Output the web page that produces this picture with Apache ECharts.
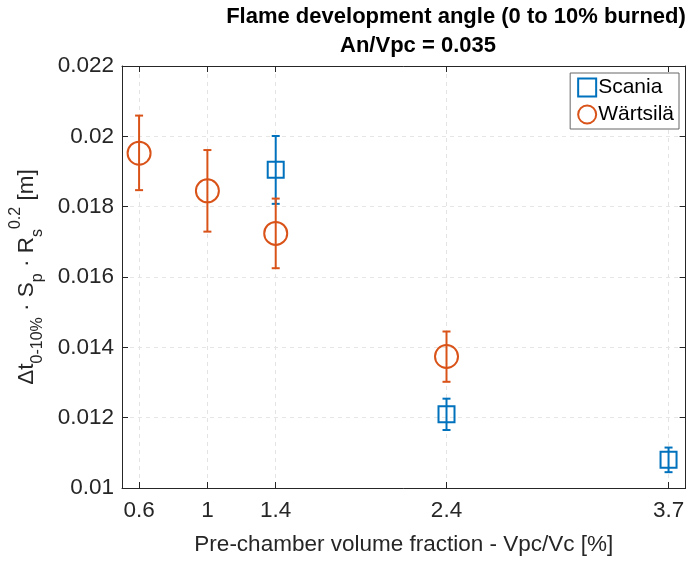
<!DOCTYPE html>
<html>
<head>
<meta charset="utf-8">
<script src="https://cdn.jsdelivr.net/npm/echarts@6/dist/echarts.min.js"></script>
<style>
  html, body { margin: 0; padding: 0; background: #fff; }
  #chart { width: 687px; height: 561px; }
</style>
</head>
<body>
<div id="chart"></div>
<script>
// Pre-chamber volume fraction (x) and normalised flame development time (y)
const xTicks = [0.6, 1, 1.4, 2.4, 3.7];

const scaniaX = [1.4, 2.4, 3.7];
const scaniaY = [0.01905, 0.0121, 0.0108];
const scaniaLow = [0.01808, 0.01165, 0.01045];
const scaniaHigh = [0.02001, 0.01254, 0.01115];

const wartsilaX = [0.6, 1, 1.4, 2.4];
const wartsilaY = [0.01952, 0.01845, 0.01724, 0.01374];
const wartsilaLow = [0.01847, 0.01729, 0.01625, 0.01302];
const wartsilaHigh = [0.02059, 0.01961, 0.01823, 0.01445];

const BLUE = '#0072BD';
const ORANGE = '#D95319';
const AXIS = '#262626';
const FONT = 'Liberation Sans, Arial, Helvetica, sans-serif';

const chart = echarts.init(document.getElementById('chart'));

function points(xs, ys) { return xs.map((x, i) => [x, ys[i]]); }
function bars(xs, lo, hi) { return xs.map((x, i) => [x, lo[i], hi[i]]); }

function errorBar(color) {
  return function (params, api) {
    const x = api.value(0);
    const top = api.coord([x, api.value(2)]);
    const bot = api.coord([x, api.value(1)]);
    const cap = 4;
    const style = { stroke: color, lineWidth: 2 };
    return {
      type: 'group',
      children: [
        { type: 'line', shape: { x1: top[0], y1: top[1], x2: bot[0], y2: bot[1] }, style },
        { type: 'line', shape: { x1: top[0] - cap, y1: top[1], x2: top[0] + cap, y2: top[1] }, style },
        { type: 'line', shape: { x1: bot[0] - cap, y1: bot[1], x2: bot[0] + cap, y2: bot[1] }, style }
      ]
    };
  };
}

const xBase = {
  type: 'value', min: 0.5, max: 3.8,
  axisLine: { show: true, onZero: false, lineStyle: { color: AXIS, width: 1 } },
  axisTick: { show: true, inside: true, length: 6, customValues: xTicks, lineStyle: { color: AXIS } },
  splitLine: { show: false }
};
const yBase = {
  type: 'value', min: 0.01, max: 0.022, interval: 0.002,
  axisLine: { show: true, onZero: false, lineStyle: { color: AXIS, width: 1 } },
  axisTick: { show: true, inside: true, length: 6, lineStyle: { color: AXIS } },
  splitLine: { show: false }
};

chart.setOption({
  animation: false,
  backgroundColor: '#fff',
  textStyle: { fontFamily: FONT },
  grid: { left: 116, right: 1, top: 66, bottom: 69, containLabel: false },
  graphic: [
    {
      type: 'text', x: 456, y: 17,
      style: { text: 'Flame development angle (0 to 10% burned)', textAlign: 'center', textVerticalAlign: 'middle',
               font: 'bold 22px ' + FONT, fill: '#000' }
    },
    {
      type: 'text', x: 418, y: 46,
      style: { text: 'An/Vpc = 0.035', textAlign: 'center', textVerticalAlign: 'middle',
               font: 'bold 22px ' + FONT, fill: '#000' }
    }
  ],
  legend: {
    orient: 'vertical', right: 8, top: 73,
    backgroundColor: '#fff', borderColor: '#666', borderWidth: 1,
    padding: [4, 5, 4, 7], itemGap: 6, itemWidth: 18, itemHeight: 18,
    textStyle: { fontSize: 21, color: '#000', fontFamily: FONT, padding: [0, 0, 0, -3] },
    data: [
      { name: 'Scania', icon: 'rect', itemStyle: { color: 'transparent', borderColor: BLUE, borderWidth: 2 } },
      { name: 'Wärtsilä', icon: 'circle', itemStyle: { color: 'transparent', borderColor: ORANGE, borderWidth: 2 } }
    ]
  },
  xAxis: [
    Object.assign({}, xBase, {
      position: 'bottom',
      name: 'Pre-chamber volume fraction - Vpc/Vc [%]',
      nameLocation: 'middle', nameGap: 45,
      nameTextStyle: { fontSize: 22.5, color: AXIS, fontFamily: FONT },
      axisLabel: { show: true, customValues: xTicks, fontSize: 22.5, color: AXIS, margin: 11, fontFamily: FONT,
                   formatter: v => String(+v.toFixed(2)) },
      splitLine: { show: true, lineStyle: { color: '#e3e3e3', type: [4, 4], width: 1 } }
    }),
    Object.assign({}, xBase, { position: 'top', axisLabel: { show: false } })
  ],
  yAxis: [
    Object.assign({}, yBase, {
      position: 'left',
      name: '{m|Δt}{sub|0-10%}{m| · S}{sub|p}{m| · R}{sub|s}{sup|0.2}{m| [m]}',
      nameLocation: 'middle', nameGap: 76, nameRotate: 90,
      nameTextStyle: {
        color: AXIS, fontFamily: FONT,
        rich: {
          m: { fontSize: 22.5, color: AXIS, lineHeight: 38, fontFamily: FONT },
          sub: { fontSize: 16, color: AXIS, verticalAlign: 'bottom', fontFamily: FONT },
          sup: { fontSize: 16, color: AXIS, verticalAlign: 'top', fontFamily: FONT }
        }
      },
      axisLabel: { show: true, fontSize: 22.5, color: AXIS, margin: 8, fontFamily: FONT,
                   formatter: v => String(+v.toFixed(3)) },
      splitLine: { show: true, lineStyle: { color: '#e6e6e6', type: [4, 4], width: 1 } }
    }),
    Object.assign({}, yBase, { position: 'right', axisLabel: { show: false } })
  ],
  series: [
    {
      name: 'Scania-err', type: 'custom', renderItem: errorBar(BLUE),
      data: bars(scaniaX, scaniaLow, scaniaHigh), encode: { x: 0, y: [1, 2] }, z: 3, silent: true
    },
    {
      name: 'Wärtsilä-err', type: 'custom', renderItem: errorBar(ORANGE),
      data: bars(wartsilaX, wartsilaLow, wartsilaHigh), encode: { x: 0, y: [1, 2] }, z: 3, silent: true
    },
    {
      name: 'Scania', type: 'scatter', symbol: 'rect', symbolSize: 16,
      itemStyle: { color: 'transparent', borderColor: BLUE, borderWidth: 2, opacity: 1 },
      data: points(scaniaX, scaniaY), z: 4
    },
    {
      name: 'Wärtsilä', type: 'scatter', symbol: 'circle', symbolSize: 23,
      itemStyle: { color: 'transparent', borderColor: ORANGE, borderWidth: 2, opacity: 1 },
      data: points(wartsilaX, wartsilaY), z: 4
    }
  ]
});
</script>
</body>
</html>
